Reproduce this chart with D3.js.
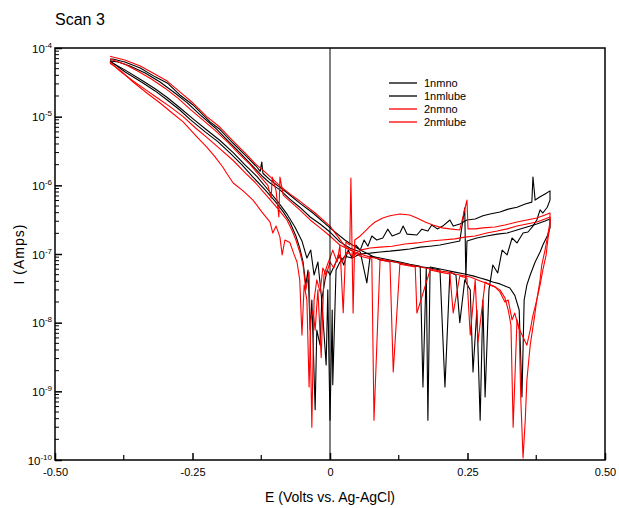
<!DOCTYPE html>
<html>
<head>
<meta charset="utf-8">
<script src="https://cdn.jsdelivr.net/npm/d3@7"></script>
<style>
  body { margin: 0; background: #fff; }
  svg { display: block; font-family: "Liberation Sans", Arial, sans-serif; }
</style>
</head>
<body>
<div id="chart"></div>
<script>
// series names + colours (legend order)
const seriesNames = ["1nmno", "1nmlube", "2nmno", "2nmlube"];
const seriesColors = ["#000000", "#000000", "#ff0000", "#ff0000"];

const xTicks = [-0.5, -0.25, 0, 0.25, 0.5];
const xTickLabels = ["-0.50", "-0.25", "0", "0.25", "0.50"];
const xMinorTicks = [-0.375, -0.125, 0.125, 0.375];
const yExponents = [-4, -5, -6, -7, -8, -9, -10];

// [E (V), I (A)] : forward scan -0.4 -> 0.4 then reverse 0.4 -> -0.4
const scan1nmno = [
  [-0.400, 6.5e-5], [-0.373, 4.5e-5], [-0.340, 3.1e-5], [-0.318, 2.37e-5], [-0.296, 1.75e-5],
  [-0.273, 1.25e-5], [-0.255, 9.2e-6], [-0.227, 6.0e-6], [-0.205, 4.4e-6], [-0.182, 2.96e-6],
  [-0.160, 1.98e-6], [-0.140, 1.32e-6], [-0.118, 8.6e-7], [-0.100, 5.9e-7], [-0.085, 4.1e-7],
  [-0.073, 2.92e-7], [-0.062, 1.83e-7], [-0.055, 1.22e-7], [-0.049, 7.65e-8], [-0.044, 3.55e-8],
  [-0.040, 5.85e-8], [-0.036, 7.8e-9], [-0.033, 2.14e-8], [-0.027, 5.4e-10], [-0.024, 7.8e-9],
  [-0.018, 4.7e-9], [-0.015, 2.14e-8], [-0.009, 4.2e-8], [-0.005, 5.85e-8], [0.000, 4.95e-8],
  [0.011, 7.65e-8], [0.018, 9.7e-8], [0.025, 6.9e-8], [0.033, 1.14e-7], [0.040, 8.75e-8],
  [0.047, 1.35e-7], [0.055, 1.14e-7], [0.062, 1.6e-7], [0.069, 1.3e-7], [0.076, 1.83e-7],
  [0.085, 1.6e-7], [0.096, 1.71e-7], [0.105, 2.3e-7], [0.113, 1.83e-7], [0.127, 2.02e-7],
  [0.133, 2.55e-7], [0.140, 1.95e-7], [0.158, 1.89e-7], [0.167, 2.3e-7], [0.178, 2.16e-7],
  [0.185, 2.64e-7], [0.195, 2.32e-7], [0.205, 2.55e-7], [0.218, 3.13e-7], [0.224, 2.55e-7],
  [0.236, 2.73e-7], [0.249, 3.13e-7], [0.264, 3.24e-7], [0.278, 3.6e-7], [0.291, 3.83e-7],
  [0.309, 4.1e-7], [0.324, 4.5e-7], [0.340, 4.8e-7], [0.355, 5.35e-7], [0.367, 5.7e-7],
  [0.369, 1.32e-6], [0.373, 6.1e-7], [0.382, 6.8e-7], [0.391, 7.5e-7], [0.400, 8.3e-7],
  [0.400, 6.1e-7], [0.395, 4.8e-7], [0.387, 3.95e-7], [0.382, 4.4e-7], [0.376, 3.13e-7],
  [0.369, 2.55e-7], [0.360, 2.09e-7], [0.351, 2.02e-7], [0.340, 1.45e-7], [0.331, 1.71e-7],
  [0.322, 9.7e-8], [0.313, 1.14e-7], [0.305, 5.3e-8], [0.296, 6.9e-8], [0.289, 3.0e-8],
  [0.282, 8.3e-10], [0.278, 2.14e-8], [0.273, 3.8e-10], [0.267, 1.53e-8], [0.260, 1.91e-9],
  [0.255, 3.0e-8], [0.245, 4.2e-8], [0.236, 1.0e-8], [0.229, 4.95e-8], [0.218, 5.45e-8],
  [0.209, 1.16e-9], [0.200, 5.85e-8], [0.182, 6.25e-8], [0.169, 6.45e-8], [0.155, 6.65e-8],
  [0.136, 7.1e-8], [0.118, 7.65e-8], [0.091, 8.2e-8], [0.055, 1.14e-7], [0.027, 1.6e-7],
  [0.000, 2.4e-7], [-0.031, 3.95e-7], [-0.055, 5.5e-7], [-0.078, 7.8e-7], [-0.109, 1.2e-6],
  [-0.122, 1.5e-6], [-0.124, 2.19e-6], [-0.127, 1.6e-6], [-0.133, 1.85e-6], [-0.155, 2.8e-6],
  [-0.176, 4.1e-6], [-0.200, 6.5e-6], [-0.218, 8.4e-6], [-0.249, 1.48e-5], [-0.273, 2.07e-5],
  [-0.296, 3.1e-5], [-0.318, 3.8e-5], [-0.345, 5.1e-5], [-0.373, 6.25e-5], [-0.395, 6.9e-5],
  [-0.400, 6.9e-5]
];

const scan1nmlube = [
  [-0.400, 6.3e-5], [-0.373, 4.8e-5], [-0.340, 3.3e-5], [-0.318, 2.55e-5], [-0.296, 1.9e-5],
  [-0.273, 1.35e-5], [-0.249, 9.3e-6], [-0.224, 6.4e-6], [-0.200, 4.5e-6], [-0.176, 3.0e-6],
  [-0.155, 2.0e-6], [-0.133, 1.35e-6], [-0.113, 8.7e-7], [-0.095, 5.8e-7], [-0.078, 3.8e-7],
  [-0.064, 2.5e-7], [-0.051, 1.55e-7], [-0.042, 8.75e-8], [-0.035, 1.14e-7], [-0.029, 4.95e-8],
  [-0.022, 7.65e-8], [-0.015, 2.14e-8], [-0.007, 2.42e-9], [-0.004, 3.0e-8], [0.000, 3.8e-10],
  [0.004, 1.53e-8], [0.005, 1.25e-9], [0.011, 5.85e-8], [0.018, 7.65e-8], [0.027, 9.3e-8],
  [0.040, 8.75e-8], [0.055, 1.0e-7], [0.073, 1.03e-7], [0.091, 1.07e-7], [0.109, 1.1e-7],
  [0.127, 1.14e-7], [0.145, 1.18e-7], [0.164, 1.26e-7], [0.182, 1.3e-7], [0.200, 1.35e-7],
  [0.218, 1.45e-7], [0.236, 1.55e-7], [0.245, 4.7e-7], [0.247, 4.2e-8], [0.249, 1.55e-7],
  [0.267, 1.71e-7], [0.285, 1.83e-7], [0.304, 1.95e-7], [0.322, 2.02e-7], [0.340, 2.24e-7],
  [0.358, 2.47e-7], [0.376, 2.73e-7], [0.391, 3.02e-7], [0.400, 3.24e-7],
  [0.400, 2.4e-7], [0.395, 1.83e-7], [0.387, 1.35e-7], [0.382, 1.07e-7], [0.373, 7.65e-8],
  [0.364, 4.95e-8], [0.358, 3.55e-8], [0.353, 2.14e-8], [0.349, 8.3e-10], [0.344, 1.53e-8],
  [0.336, 2.5e-8], [0.327, 3.2e-8], [0.318, 3.43e-8], [0.309, 3.67e-8], [0.296, 3.9e-8],
  [0.285, 4.2e-8], [0.273, 4.47e-8], [0.260, 4.8e-8], [0.245, 5.1e-8], [0.227, 5.45e-8],
  [0.209, 5.85e-8], [0.191, 6.25e-8], [0.182, 6.45e-8], [0.178, 3.8e-10], [0.175, 6.25e-8],
  [0.169, 1.16e-9], [0.164, 6.65e-8], [0.145, 7.1e-8], [0.127, 7.65e-8], [0.109, 8.2e-8],
  [0.091, 8.75e-8], [0.073, 9.3e-8], [0.067, 3.8e-8], [0.055, 1.07e-7], [0.036, 1.22e-7],
  [0.018, 1.5e-7], [0.000, 2.09e-7], [-0.018, 2.73e-7], [-0.036, 3.46e-7], [-0.055, 4.8e-7],
  [-0.073, 6.3e-7], [-0.091, 8.6e-7], [-0.109, 1.08e-6], [-0.124, 1.38e-6], [-0.145, 2.07e-6],
  [-0.164, 3.0e-6], [-0.185, 4.4e-6], [-0.209, 6.9e-6], [-0.236, 1.06e-5], [-0.260, 1.6e-5],
  [-0.282, 2.21e-5], [-0.309, 3.2e-5], [-0.336, 4.33e-5], [-0.364, 5.47e-5], [-0.385, 6.25e-5],
  [-0.400, 6.5e-5]
];

const scan2nmno = [
  [-0.400, 6.0e-5], [-0.382, 4.8e-5], [-0.358, 3.2e-5], [-0.333, 2.21e-5], [-0.309, 1.58e-5],
  [-0.287, 1.13e-5], [-0.267, 8.4e-6], [-0.245, 5.4e-6], [-0.224, 3.6e-6], [-0.209, 2.59e-6],
  [-0.195, 1.85e-6], [-0.187, 1.46e-6], [-0.176, 1.08e-6], [-0.158, 8.3e-7], [-0.140, 6.1e-7],
  [-0.124, 4.1e-7], [-0.109, 2.92e-7], [-0.104, 2.02e-7], [-0.098, 2.55e-7], [-0.091, 1.76e-7],
  [-0.087, 9.7e-8], [-0.082, 1.6e-7], [-0.073, 1.47e-7], [-0.065, 9.7e-8], [-0.060, 7.65e-8],
  [-0.055, 4.2e-8], [-0.051, 6.6e-9], [-0.047, 3.55e-8], [-0.042, 2.14e-8], [-0.038, 1.16e-9],
  [-0.035, 1.1e-8], [-0.031, 1.5e-8], [-0.027, 7.8e-9], [-0.022, 3.0e-8], [-0.016, 3.1e-9],
  [-0.011, 4.95e-8], [-0.005, 6.9e-8], [0.000, 8.75e-8], [0.005, 1.14e-7], [0.013, 7.65e-8],
  [0.018, 1.35e-7], [0.024, 1.4e-8], [0.029, 1.5e-7], [0.036, 1.35e-7], [0.038, 1.28e-6],
  [0.042, 1.38e-8], [0.045, 1.6e-7], [0.055, 1.83e-7], [0.064, 2.16e-7], [0.073, 2.55e-7],
  [0.082, 2.92e-7], [0.096, 3.34e-7], [0.109, 3.6e-7], [0.127, 3.83e-7], [0.145, 3.7e-7],
  [0.158, 3.34e-7], [0.173, 2.92e-7], [0.187, 2.64e-7], [0.204, 2.4e-7], [0.218, 2.32e-7],
  [0.236, 2.24e-7], [0.249, 6.1e-7], [0.251, 2.32e-7], [0.264, 2.32e-7], [0.278, 2.4e-7],
  [0.300, 2.47e-7], [0.318, 2.64e-7], [0.340, 2.92e-7], [0.358, 3.13e-7], [0.376, 3.34e-7],
  [0.391, 3.7e-7], [0.400, 3.95e-7],
  [0.400, 2.92e-7], [0.396, 1.89e-7], [0.391, 1.14e-7], [0.385, 6.9e-8], [0.382, 4.2e-8],
  [0.376, 2.14e-8], [0.371, 1.1e-8], [0.364, 4.7e-9], [0.358, 1.46e-9], [0.355, 3.8e-10],
  [0.351, 1.07e-10], [0.347, 7.4e-10], [0.344, 7.8e-9], [0.336, 1.38e-8], [0.331, 1.1e-8],
  [0.324, 2.14e-8], [0.318, 2.0e-8], [0.309, 2.8e-8], [0.300, 3.32e-8], [0.291, 3.55e-8],
  [0.282, 3.9e-8], [0.269, 5.2e-9], [0.264, 4.2e-8], [0.255, 6.6e-9], [0.249, 4.47e-8],
  [0.236, 4.8e-8], [0.224, 1.38e-8], [0.218, 5.1e-8], [0.200, 5.45e-8], [0.182, 5.85e-8],
  [0.158, 1.38e-8], [0.155, 6.45e-8], [0.127, 7.1e-8], [0.115, 1.91e-9], [0.109, 7.65e-8],
  [0.091, 8.2e-8], [0.080, 3.8e-10], [0.076, 8.45e-8], [0.055, 9.3e-8], [0.027, 1.3e-7],
  [0.000, 2.55e-7], [-0.027, 3.95e-7], [-0.055, 5.9e-7], [-0.073, 7.5e-7], [-0.091, 9.8e-7],
  [-0.105, 1.25e-6], [-0.118, 1.56e-6], [-0.136, 2.07e-6], [-0.155, 3.0e-6], [-0.176, 4.4e-6],
  [-0.200, 7.0e-6], [-0.224, 1.0e-5], [-0.249, 1.58e-5], [-0.273, 2.3e-5], [-0.296, 3.3e-5],
  [-0.322, 4.33e-5], [-0.345, 5.47e-5], [-0.373, 6.7e-5], [-0.395, 7.4e-5], [-0.400, 7.6e-5]
];

const scan2nmlube = [
  [-0.400, 6.3e-5], [-0.382, 4.6e-5], [-0.358, 3.3e-5], [-0.336, 2.5e-5], [-0.315, 1.9e-5],
  [-0.291, 1.4e-5], [-0.267, 1.0e-5], [-0.245, 6.9e-6], [-0.224, 5.0e-6], [-0.200, 3.4e-6],
  [-0.176, 2.3e-6], [-0.155, 1.55e-6], [-0.136, 1.1e-6], [-0.118, 7.5e-7], [-0.105, 5.7e-7],
  [-0.091, 4.2e-7], [-0.078, 3.1e-7], [-0.069, 2.2e-7], [-0.062, 1.6e-7], [-0.055, 1.07e-7],
  [-0.049, 6.9e-8], [-0.044, 3.0e-8], [-0.038, 5.45e-8], [-0.033, 3.0e-10], [-0.029, 2.14e-8],
  [-0.024, 4.2e-8], [-0.018, 2.8e-8], [-0.013, 6.25e-8], [-0.007, 4.95e-8], [0.000, 7.65e-8],
  [0.007, 6.25e-8], [0.015, 9.7e-8], [0.022, 7.65e-8], [0.031, 1.07e-7], [0.042, 9.3e-8],
  [0.055, 1.14e-7], [0.073, 1.22e-7], [0.091, 1.26e-7], [0.113, 1.3e-7], [0.136, 1.4e-7],
  [0.158, 1.45e-7], [0.182, 1.55e-7], [0.204, 1.6e-7], [0.227, 1.66e-7], [0.245, 1.76e-7],
  [0.264, 1.83e-7], [0.285, 2.02e-7], [0.304, 2.16e-7], [0.322, 2.32e-7], [0.340, 2.55e-7],
  [0.358, 2.73e-7], [0.376, 2.92e-7], [0.391, 3.24e-7], [0.400, 3.46e-7],
  [0.400, 2.55e-7], [0.396, 1.6e-7], [0.393, 9.7e-8], [0.387, 5.85e-8], [0.382, 3.55e-8],
  [0.376, 2.14e-8], [0.369, 1.28e-8], [0.364, 7.8e-9], [0.358, 4.7e-9], [0.345, 7.8e-9],
  [0.340, 1.1e-8], [0.333, 3.0e-10], [0.329, 9.3e-9], [0.324, 1.53e-8], [0.318, 2.3e-8],
  [0.309, 3.0e-8], [0.300, 3.32e-8], [0.291, 3.55e-8], [0.282, 3.8e-8], [0.273, 4.05e-8],
  [0.264, 4.32e-8], [0.255, 4.62e-8], [0.245, 4.8e-8], [0.236, 4.95e-8], [0.227, 5.1e-8],
  [0.215, 5.45e-8], [0.200, 5.65e-8], [0.182, 6.05e-8], [0.164, 6.45e-8], [0.145, 6.9e-8],
  [0.127, 7.4e-8], [0.109, 7.9e-8], [0.091, 8.45e-8], [0.073, 9.0e-8], [0.055, 1.0e-7],
  [0.036, 1.14e-7], [0.018, 1.35e-7], [0.000, 1.83e-7], [-0.018, 2.4e-7], [-0.036, 3.13e-7],
  [-0.055, 4.4e-7], [-0.073, 5.9e-7], [-0.085, 7.2e-7], [-0.091, 1.32e-6], [-0.093, 3.46e-7],
  [-0.098, 8.3e-7], [-0.105, 1.32e-6], [-0.107, 6.5e-7], [-0.113, 1.0e-6], [-0.127, 1.35e-6],
  [-0.145, 2.0e-6], [-0.164, 2.8e-6], [-0.185, 4.2e-6], [-0.209, 6.3e-6], [-0.233, 9.2e-6],
  [-0.255, 1.3e-5], [-0.276, 1.85e-5], [-0.300, 2.6e-5], [-0.324, 3.5e-5], [-0.349, 4.6e-5],
  [-0.373, 5.8e-5], [-0.395, 6.7e-5], [-0.400, 6.9e-5]
];

const scans = [scan1nmno, scan1nmlube, scan2nmno, scan2nmlube];

const width = 619, height = 508;
const margin = {top: 48, right: 14, bottom: 48, left: 55};

const svg = d3.select("#chart").append("svg")
    .attr("width", width)
    .attr("height", height);

const x = d3.scaleLinear()
    .domain([-0.5, 0.5])
    .range([margin.left, width - margin.right]);

const y = d3.scaleLog()
    .domain([1e-10, 1e-4])
    .range([height - margin.bottom, margin.top]);

// title
svg.append("text")
    .attr("x", 55)
    .attr("y", 25)
    .attr("font-size", 16)
    .text("Scan 3");

// series
const line = d3.line()
    .x(d => x(d[0]))
    .y(d => y(d[1]));

svg.append("g")
    .attr("fill", "none")
    .attr("stroke-width", 1.1)
    .attr("stroke-linejoin", "round")
  .selectAll("path")
  .data(scans)
  .join("path")
    .attr("stroke", (d, i) => seriesColors[i])
    .attr("d", line);

// zero line
svg.append("line")
    .attr("x1", x(0)).attr("x2", x(0))
    .attr("y1", y(1e-4)).attr("y2", y(1e-10))
    .attr("stroke", "#000")
    .attr("stroke-width", 1);

// frame
svg.append("rect")
    .attr("x", x(-0.5))
    .attr("y", y(1e-4))
    .attr("width", x(0.5) - x(-0.5))
    .attr("height", y(1e-10) - y(1e-4))
    .attr("fill", "none")
    .attr("stroke", "#000")
    .attr("stroke-width", 1.5);

// bottom axis, ticks pointing inward
const xAxis = svg.append("g")
    .attr("transform", `translate(0,${y(1e-10)})`)
    .call(d3.axisBottom(x)
        .tickValues(xTicks)
        .tickSize(-7)
        .tickPadding(8)
        .tickFormat((d, i) => xTickLabels[i]));
xAxis.select(".domain").remove();
xAxis.selectAll("line").attr("stroke-width", 1.5);
xAxis.selectAll("text").attr("font-size", 11).attr("font-family", null).attr("fill", "#000");

svg.append("g")
  .selectAll("line")
  .data(xMinorTicks)
  .join("line")
    .attr("x1", d => x(d)).attr("x2", d => x(d))
    .attr("y1", y(1e-10)).attr("y2", y(1e-10) - 5)
    .attr("stroke", "#000")
    .attr("stroke-width", 1.2);

// left axis
const yAxis = svg.append("g")
    .attr("transform", `translate(${x(-0.5)},0)`)
    .call(d3.axisLeft(y)
        .tickValues(yExponents.map(e => Math.pow(10, e)))
        .tickSize(-7)
        .tickPadding(4)
        .tickFormat(""));
yAxis.select(".domain").remove();
yAxis.selectAll("line").attr("stroke-width", 1.5);

yAxis.selectAll(".tick text").remove();
yAxis.selectAll(".tick")
    .append("text")
    .attr("x", -3)
    .attr("dy", "0.35em")
    .attr("text-anchor", "end")
    .attr("fill", "#000")
    .attr("font-size", 11.5)
    .each(function(d, i) {
      const t = d3.select(this);
      t.append("tspan").text("10");
      t.append("tspan")
          .attr("font-size", 8)
          .attr("dy", "-0.6em")
          .text(yExponents[i]);
    });

// minor log ticks
const minorY = [];
for (const e of yExponents.slice(1)) {
  for (let k = 2; k <= 9; k++) minorY.push(k * Math.pow(10, e));
}
svg.append("g")
  .selectAll("line")
  .data(minorY)
  .join("line")
    .attr("x1", x(-0.5)).attr("x2", x(-0.5) + 4)
    .attr("y1", d => y(d)).attr("y2", d => y(d))
    .attr("stroke", "#000")
    .attr("stroke-width", 1);

// axis titles
svg.append("text")
    .attr("x", x(0))
    .attr("y", 502)
    .attr("text-anchor", "middle")
    .attr("font-size", 14)
    .text("E (Volts vs. Ag-AgCl)");

svg.append("text")
    .attr("transform", `translate(24,${(y(1e-4) + y(1e-10)) / 2}) rotate(-90)`)
    .attr("text-anchor", "middle")
    .attr("font-size", 14)
    .attr("letter-spacing", 1)
    .text("I (Amps)");

// legend
const legend = svg.append("g")
  .selectAll("g")
  .data(seriesNames)
  .join("g")
    .attr("transform", (d, i) => `translate(389,${83 + i * 13})`);

legend.append("line")
    .attr("x1", 0).attr("x2", 28)
    .attr("stroke", (d, i) => seriesColors[i])
    .attr("stroke-width", 1.3);

legend.append("text")
    .attr("x", 35)
    .attr("dy", "0.35em")
    .attr("font-size", 11)
    .text(d => d);
</script>
</body>
</html>
